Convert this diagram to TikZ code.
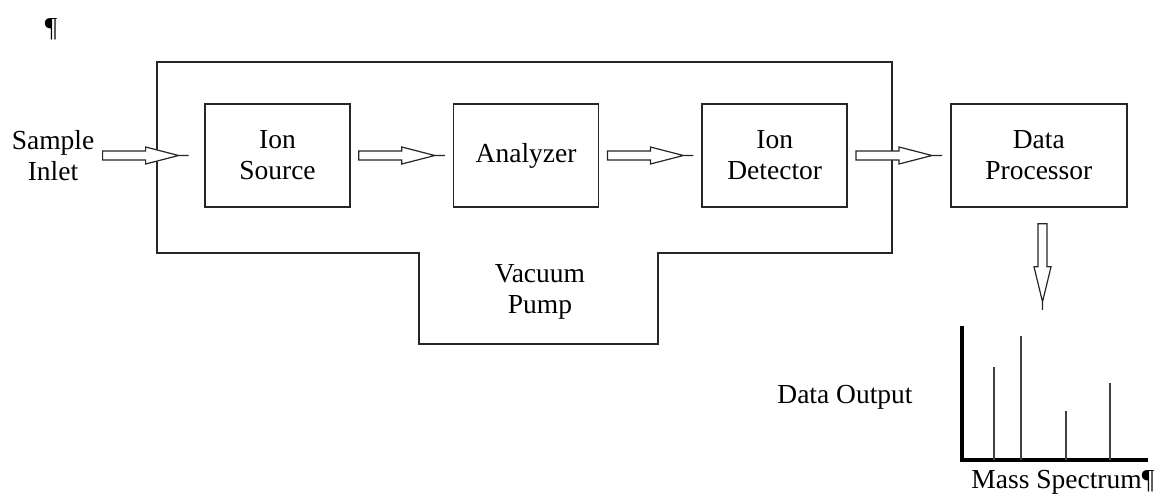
\documentclass[tikz,border=0pt]{standalone}
\usepackage{fontspec}
\setmainfont{Liberation Serif}
\usetikzlibrary{positioning}
\usetikzlibrary{calc}

\begin{document}
\begin{tikzpicture}[
      x=0.5pt, y=-0.5pt,
      every node/.style={font=\fontsize{13.75}{15.5}\selectfont},
      mybox/.style={
         draw=black!85,
         line width=0.8pt,
         align=center,
         minimum width=72.5pt,
         minimum height=51.5pt},
      mytext/.style={align=center, inner sep=0pt},
      blockarrow/.style={draw=black!85, line width=0.6pt, fill=white, line join=miter},
      frame/.style={draw=black!85, line width=0.8pt},
      axisline/.style={line width=2pt},
      peak/.style={draw=black!75, line width=0.7pt},
      node distance=51pt
      ]
      \useasboundingbox (0,0) rectangle (1165,498);

      \node[mytext] (mark) at (51,29) {¶};
      \node[mytext] (inlet) at (53,156) {Sample\\Inlet};
      \node[mybox] (source) at (277.5,155.5) {Ion\\Source};
      \node[mybox,right=of source] (analyzer) {Analyzer};
      \node[mybox,right=of analyzer] (detector) {Ion\\Detector};
      \node[mybox,right=of detector,minimum width=88pt] (processor) {Data\\Processor};

      % vacuum chamber with the pump
      \draw[frame] (157,62) -- (892,62) -- (892,253) -- (658,253) -- (658,344)
         -- (419,344) -- (419,253) -- (157,253) -- cycle;
      \node[mytext] (pump) at (540,292) {Vacuum\\Pump};

    \foreach \i/\j in {% start node/end node
      inlet/source,
      source/analyzer,
      analyzer/detector,
      detector/processor}
       \draw [blockarrow] let \p1=(\i.east), \p2=(\j.west) in
         (\x1+4pt,\y2+2.25pt) -- (\x1+25.5pt,\y2+2.25pt) -- (\x1+25.5pt,\y2+4.25pt)
         -- (\x1+42pt,\y2) -- (\x1+25.5pt,\y2-4.25pt) -- (\x1+25.5pt,\y2-2.25pt)
         -- (\x1+4pt,\y2-2.25pt) -- cycle
         (\x1+42pt,\y2) -- (\x1+47pt,\y2);

      % spectrum
      \coordinate (spec) at (1042.5,318);
      \draw [blockarrow] let \p1=(processor.south), \p2=(spec) in
         (\x2-2.25pt,\y1-8pt) -- (\x2-2.25pt,\y1-29.5pt) -- (\x2-4.25pt,\y1-29.5pt)
         -- (\x2,\y1-47pt) -- (\x2+4.25pt,\y1-29.5pt) -- (\x2+2.25pt,\y1-29.5pt)
         -- (\x2+2.25pt,\y1-8pt) -- cycle
         (\x2,\y1-47pt) -- (\x2,\y1-51pt);
      \draw[axisline] (962,326) |- (1148,460);
      \foreach \px/\py in {994/367, 1021/336, 1066/411, 1110/383}
         \draw[peak] (\px,460) -- (\px,\py);

      \node[mytext] (output) at (845,397) {Data Output};
      \node[mytext,anchor=west] (spectrum) at (971,482) {Mass Spectrum¶};
    \end{tikzpicture}
\end{document}
